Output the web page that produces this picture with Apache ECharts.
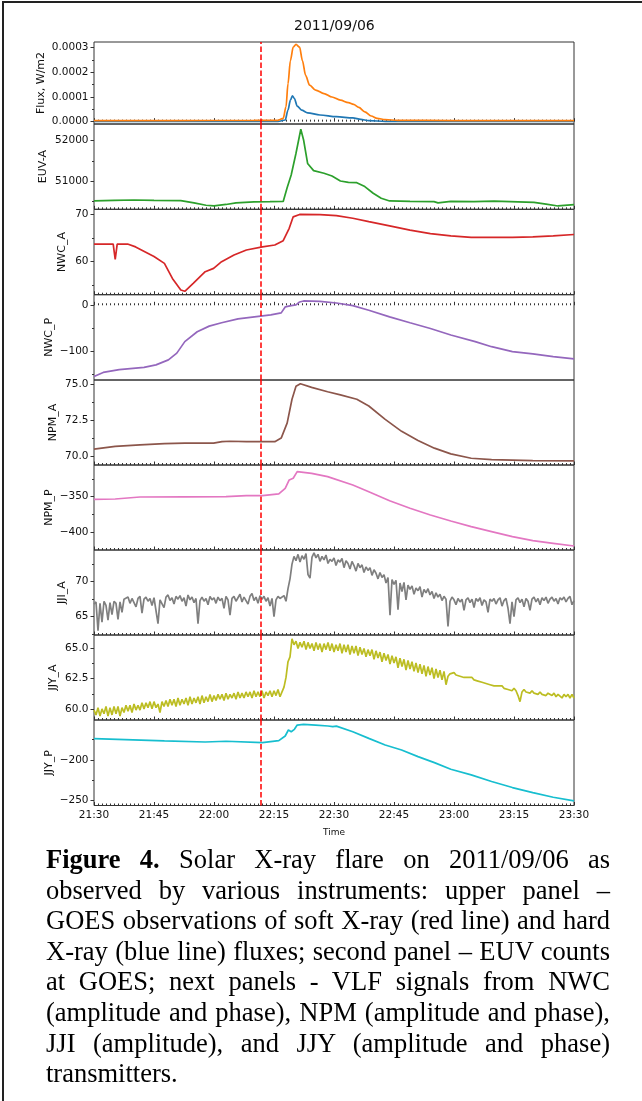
<!DOCTYPE html>
<html>
<head>
<meta charset="utf-8">
<script src="https://cdn.jsdelivr.net/npm/echarts@6/dist/echarts.min.js"></script>
<style>
html,body{margin:0;padding:0;background:#fff;}
#wrap{position:relative;width:642px;height:1101px;overflow:hidden;background:#fff;}
#chart{position:absolute;left:0;top:0;width:642px;height:1101px;}
#frame{position:absolute;left:2px;top:1px;width:660px;height:1120px;border-left:2px solid #222;border-top:2px solid #222;pointer-events:none;}
#caption{position:absolute;left:46px;top:844px;width:564px;font-family:"Liberation Serif","Times New Roman",serif;font-size:26.5px;line-height:30.6px;color:#000;}
#caption .l{text-align:justify;text-align-last:justify;}
#caption .e{text-align:left;}
</style>
</head>
<body>
<div id="wrap">
  <div id="chart"></div>
  <div id="frame"></div>
  <div id="caption">
    <div class="l"><b>Figure 4.</b> Solar X-ray flare on 2011/09/06 as</div>
    <div class="l">observed by various instruments: upper panel –</div>
    <div class="l">GOES observations of soft X-ray (red line) and hard</div>
    <div class="l">X-ray (blue line) fluxes; second panel – EUV counts</div>
    <div class="l">at GOES; next panels - VLF signals from NWC</div>
    <div class="l">(amplitude and phase), NPM (amplitude and phase),</div>
    <div class="l">JJI (amplitude), and JJY (amplitude and phase)</div>
    <div class="e">transmitters.</div>
  </div>
</div>
<script>
// ---------------- DATA (time in minutes after 21:30) ----------------
const chartTitle = "2011/09/06";
const xTickStep = 15;
const eventTime = 41.75; // red dashed line, ~22:11:45

const panelNames = ["Flux, W/m2", "EUV-A", "NWC_A", "NWC_P", "NPM_A", "NPM_P", "JJI_A", "JJY_A", "JJY_P"];

// GOES soft X-ray (orange) and hard X-ray (blue)
const sxrT = [0, 20, 40, 46, 47.3, 48, 48.5, 49.1, 49.8, 50.5, 51.4, 52.1, 52.9, 53.9, 55.4, 57.5, 59.5, 61.6, 63.6, 64.9, 66.2, 67.7, 69.3, 70.8, 72.8, 75.9, 90, 120];
const sxrV = [4.5e-6, 4.5e-6, 4.8e-6, 5.5e-6, 1.34e-5, 6.0e-5, 1.54e-4, 2.48e-4, 3.02e-4, 3.13e-4, 3.02e-4, 2.48e-4, 1.88e-4, 1.48e-4, 1.28e-4, 1.14e-4, 1.0e-4, 8.7e-5, 7.7e-5, 7.0e-5, 5.8e-5, 4.0e-5, 2.3e-5, 1.34e-5, 8.0e-6, 5.4e-6, 4.5e-6, 4.2e-6];
const hxrT = [0, 30, 46, 47.8, 48.5, 49.1, 49.6, 50.1, 50.8, 51.9, 53.4, 56.5, 60.6, 64.7, 66.7, 68.7, 72.8, 90, 120];
const hxrV = [6e-7, 6e-7, 8e-7, 6.7e-6, 4.7e-5, 8.7e-5, 1.05e-4, 9.4e-5, 6.3e-5, 4.7e-5, 3.6e-5, 2.7e-5, 2.0e-5, 1.5e-5, 9.4e-6, 4.0e-6, 1.3e-6, 8e-7, 7e-7];

// EUV-A
const euvT = [0, 5, 10, 15, 21.7, 25, 28, 30, 33, 35.5, 36, 40, 44, 47.3, 48.3, 49.3, 50.5, 51.7, 52.4, 53.4, 54.9, 57.5, 59.5, 61.6, 63.6, 65.7, 67.7, 69.8, 71.8, 73.9, 79, 85, 86, 89.2, 95, 100, 106, 110, 113, 116, 120];
const euvV = [50516, 50530, 50540, 50530, 50525, 50470, 50410, 50393, 50430, 50470, 50490, 50495, 50500, 50505, 50850, 51155, 51690, 52280, 52016, 51440, 51262, 51197, 51130, 51008, 50975, 50967, 50870, 50705, 50582, 50516, 50508, 50500, 50470, 50505, 50500, 50510, 50495, 50480, 50440, 50393, 50426];

// NWC amplitude / phase
const nwcAT = [0, 4.8, 5.3, 5.8, 8.4, 10.4, 15, 17.6, 19.6, 21.7, 22.7, 24.8, 27.8, 29.9, 31.9, 35, 38.1, 42.1, 45.2, 47.3, 48.8, 49.8, 51.4, 56.5, 60.6, 64.7, 68.7, 73.9, 79, 84.1, 89.2, 94.3, 99.4, 104.6, 109.7, 114.8, 120];
const nwcAV = [63.7, 63.7, 60.5, 63.7, 63.7, 63.1, 61.1, 59.65, 56.5, 54.06, 53.8, 55.45, 57.9, 58.6, 60.0, 61.4, 62.45, 63.1, 63.5, 64.4, 67.0, 69.4, 69.9, 69.86, 69.65, 69.1, 68.4, 67.5, 66.6, 65.9, 65.4, 65.1, 65.1, 65.1, 65.2, 65.4, 65.7];
const nwcPT = [0, 2.3, 6.3, 12.5, 15.5, 18.6, 20.7, 22.7, 25.8, 28.8, 31.9, 36, 40.1, 44.2, 46.8, 47.8, 49.3, 50.5, 51.4, 52.4, 56.5, 60.6, 64.7, 68.7, 73.9, 79, 84.1, 89.2, 95.3, 99.4, 104.6, 109.7, 114.8, 120];
const nwcPV = [-154.7, -146, -140, -135, -129.5, -118.7, -104, -79, -57.6, -45.3, -38, -29.5, -25.2, -20.9, -16.5, -3.6, -0.7, 0.7, 7.2, 9.4, 8.6, 5, -0.7, -10.8, -25.2, -38, -50.4, -64.7, -79, -90, -100.7, -105.8, -111.5, -116.5];

// NPM amplitude / phase
const npmAT = [0, 5.3, 11.5, 17.6, 22.7, 29.9, 32, 34, 38.1, 42.1, 45.2, 46.8, 48.3, 49.5, 50.5, 51.6, 54.4, 58.4, 61.6, 65.7, 68.7, 72.8, 76.9, 81, 85.1, 89.2, 94.3, 99.4, 109.7, 120];
const npmAV = [70.47, 70.66, 70.77, 70.85, 70.89, 70.89, 71.0, 71.02, 70.99, 70.99, 70.99, 71.24, 72.3, 73.94, 74.84, 75.02, 74.77, 74.46, 74.25, 73.94, 73.47, 72.54, 71.71, 71.08, 70.54, 70.14, 69.84, 69.74, 69.67, 69.65];
const npmPT = [0, 5.3, 11.5, 22.7, 33, 38.1, 42.1, 46.2, 47.8, 48.8, 49.8, 50.8, 51.3, 54.4, 58.4, 64.7, 68.7, 73.9, 79, 84.1, 89.2, 94.3, 99.4, 104.6, 109.7, 114.8, 120];
const npmPV = [-353.8, -353.3, -350.5, -350.2, -350, -348.6, -348.6, -346.2, -338.2, -326.4, -324, -314.6, -313.2, -317, -321.7, -333.5, -343, -355.7, -366.5, -376, -384.4, -392.5, -399.5, -406.6, -412.3, -416, -419.8];

// JJI amplitude, sampled every 0.5 min from 21:30
const jjiStart = 0, jjiStep = 0.5;
const jjiV = [
66.8,67.1,63.0,66.9,64.2,67.2,66.6,64.5,67.0,65.3,
67.2,66.9,64.6,67.1,65.6,67.5,67.3,67.8,66.9,67.6,
67.4,66.4,67.6,67.9,65.5,67.5,67.8,67.2,67.6,66.6,
67.7,67.9,64.0,67.4,67.6,66.3,67.8,68.1,67.3,67.7,
66.8,67.9,67.5,68.0,67.2,67.7,66.5,68.1,67.4,67.8,
67.0,67.6,64.0,67.3,67.8,67.2,67.6,66.7,67.9,67.4,
67.7,66.9,67.8,67.3,67.6,66.2,67.9,67.4,65.2,67.6,
67.9,67.2,67.7,68.2,67.1,67.8,68.0,66.8,67.9,68.3,
67.3,67.8,66.9,68.0,67.5,67.9,67.2,67.7,66.5,67.6,
65.0,67.4,67.9,67.6,67.5,68.0,67.2,69.0,70.4,72.5,
73.6,73.0,73.9,72.8,73.7,73.2,74.0,71.0,70.5,73.5,
74.1,73.4,73.9,72.9,73.6,73.1,73.8,72.6,73.2,72.9,
73.4,72.3,73.1,72.8,73.3,72.0,73.0,72.6,71.8,72.9,
72.3,71.5,72.6,72.0,72.4,71.3,72.1,71.6,72.0,70.9,
71.7,71.2,70.4,71.3,70.6,71.0,69.8,70.6,65.2,70.3,
69.6,70.2,66.0,69.8,68.6,69.9,67.4,69.5,68.9,69.4,
68.2,69.1,68.7,69.3,67.8,68.9,68.4,69.0,68.1,68.6,
67.6,68.4,67.8,68.2,67.3,67.9,67.5,63.6,67.2,67.8,
67.4,66.7,67.6,67.1,67.5,65.9,67.4,67.7,67.0,67.5,
66.3,67.6,67.2,67.7,66.6,67.4,67.1,65.6,67.5,67.2,
67.6,66.8,67.4,67.7,66.5,67.3,67.6,66.2,64.0,67.1,
65.0,67.4,67.7,67.0,67.5,66.4,67.6,67.2,65.9,67.5,
67.8,67.1,67.6,66.7,67.7,67.3,67.8,66.9,67.5,67.8,
67.2,67.6,66.8,67.7,67.4,67.8,67.1,67.6,67.9,66.7,
67.3];

// JJY amplitude, sampled every 0.5 min from 21:30
const jjyAStart = 0, jjyAStep = 0.5;
const jjyAV = [
59.9,59.5,60.1,59.4,60.0,59.6,60.2,59.4,60.1,59.5,
60.2,59.6,60.2,59.4,60.1,59.7,60.3,59.8,60.3,59.7,
60.4,59.9,60.3,59.9,60.5,60.0,60.5,60.1,60.6,60.0,
60.6,60.1,60.4,59.7,60.6,60.2,60.7,60.2,60.8,60.3,
60.8,60.2,60.9,60.3,60.8,60.4,60.9,60.3,61.0,60.4,
60.9,60.5,61.0,60.4,61.1,60.5,61.0,60.6,61.2,60.6,
61.1,60.7,61.2,60.8,61.2,60.7,61.3,60.8,61.2,60.9,
61.3,60.8,61.4,60.9,61.3,60.9,61.4,61.0,61.4,60.9,
61.5,61.0,61.4,61.0,61.5,60.9,61.4,61.1,61.5,61.0,
61.5,61.1,61.6,61.0,61.4,61.8,62.6,63.9,64.3,65.8,
65.3,65.6,65.0,65.5,65.1,65.6,64.9,65.5,65.0,65.4,
64.8,65.5,64.9,65.4,64.7,65.4,64.9,65.5,64.8,65.4,
64.7,65.3,64.8,65.4,64.6,65.3,64.7,65.3,64.5,65.2,
64.6,65.2,64.4,65.1,64.5,65.0,64.3,64.9,64.4,64.9,
64.1,64.8,64.2,64.7,63.9,64.6,64.0,64.5,63.7,64.4,
63.8,64.3,63.4,64.2,63.5,64.1,63.2,64.0,63.3,63.9,
63.1,63.8,63.0,63.7,62.9,63.6,62.7,63.5,62.8,63.4,
62.5,63.3,62.6,63.2,62.4,63.1,62.0,62.7,62.9,62.8,
63.0,62.8,62.9,62.7,62.8,62.6,62.7,62.6,62.5,62.6,
62.4,62.5,62.3,62.4,62.2,62.3,62.1,62.2,62.0,62.1,
61.9,62.0,61.9,61.8,61.9,61.7,61.8,61.6,61.7,61.5,
61.7,61.5,61.1,60.6,61.4,61.6,61.4,61.5,61.3,61.5,
61.3,61.4,61.2,61.4,61.2,61.3,61.1,61.3,61.2,61.1,
61.3,61.0,61.2,61.1,60.9,61.2,61.0,61.2,60.9,61.2,
60.9];

// JJY phase
const jjyPT = [0, 17.6, 27.8, 33, 42.1, 46.2, 47.8, 48.6, 49.3, 50.1, 50.8, 52.4, 55.4, 58.5, 59.7, 60.6, 64.7, 68.7, 72.8, 76.9, 81, 85.1, 89.2, 94.3, 99.4, 104.6, 109.7, 114.8, 120];
const jjyPV = [-173.8, -176.6, -177.9, -177, -178.7, -176.2, -170.5, -163.1, -165.2, -162.3, -157, -156.1, -157, -158.2, -159, -158.4, -165.2, -173.4, -181.6, -187.7, -195.9, -203.3, -211.5, -218.4, -226.6, -234, -240.2, -245.9, -250.4];

// axis ranges and ticks
const yMins = [-0.0000095, 50311, 53.08, -162.4, 69.37, -425.5, 62.38, 59.08, -256.1];
const yMaxs = [0.000323, 52410, 70.98, 23, 75.28, -305.2, 74.52, 66.11, -150.8];
const yTicks = [[0, 0.0001, 0.0002, 0.0003], [51000, 52000], [60, 70], [-100, 0], [70.0, 72.5, 75.0], [-400, -350], [65, 70], [60.0, 62.5, 65.0], [-250, -200]];
const yMinorTicks = [[0.00005, 0.00015, 0.00025], [50500, 51500], [55, 65], [-150, -50], [71.25, 73.75], [-375, -325], [62.5, 67.5, 72.5], [61.25, 63.75], [-225, -175]];
const yDecimals = [4, 0, 0, 0, 1, 0, 0, 1, 0];

const colors = {blue:'#1f77b4', orange:'#ff7f0e', green:'#2ca02c', red:'#d62728', purple:'#9467bd', brown:'#8c564b', pink:'#e377c2', gray:'#7f7f7f', olive:'#bcbd22', cyan:'#17becf'};

// ---------------- LAYOUT ----------------
const plotLeft = 94, plotWidth = 480;
const panelTops = [42, 124, 209.3, 294.7, 380, 465, 550, 635, 720];
const panelBottoms = [124, 209.3, 294.7, 380, 465, 550, 635, 720, 805.5];
const nameGaps = [47, 45, 26, 39, 35, 39, 26, 35, 39];
const FONT = '"DejaVu Sans", sans-serif';

function pairs(ts, vs){ return vs.map((v,i)=>[ts[i], v]); }
function sampled(start, step, vs){ return vs.map((v,i)=>[start + i*step, v]); }
function fmtTime(v){
  const tot = 21*60 + 30 + v;
  const h = Math.floor(tot/60), m = Math.round(tot%60);
  return h + ':' + (m<10?'0':'') + m;
}
function fmtY(v, d){
  let s = Math.abs(v).toFixed(d);
  return (v < 0 ? '\u2212' : '') + s;
}

const grids = [], xAxes = [], yAxes = [], series = [];
for (let i=0;i<9;i++){
  grids.push({left: plotLeft, width: plotWidth, top: panelTops[i], height: panelBottoms[i]-panelTops[i],
    show: true, borderColor: '#333', borderWidth: 1, backgroundColor: 'transparent'});
  const last = i === 8;
  xAxes.push({type:'value', gridIndex:i, min:0, max:120, interval:xTickStep,
    axisLine:{show:false},
    axisTick:{show:true, inside:true, length:3.5, lineStyle:{color:'#333', width:1}},
    minorTick:{show:true, splitNumber:15, length:2, lineStyle:{color:'#333', width:1}},
    splitLine:{show:false},
    axisLabel:{show:last, formatter: fmtTime, fontFamily:FONT, fontSize:10.5, color:'#111', margin:4},
    name: last ? 'Time' : '', nameLocation:'middle', nameGap: 23, nameMoveOverlap: false,
    nameTextStyle:{fontFamily:FONT, fontSize:9, color:'#111'}
  });
}
for (let i=0;i<9;i++){
  const d = yDecimals[i];
  yAxes.push({type:'value', gridIndex:i, position:'left', min:yMins[i], max:yMaxs[i],
    axisLine:{show:false}, splitLine:{show:false},
    axisTick:{show:true, inside:false, length:3.5, customValues: yTicks[i], lineStyle:{color:'#333', width:1}},
    axisLabel:{show:true, customValues: yTicks[i], formatter: v => fmtY(v, d), fontFamily:FONT, fontSize:10.5, color:'#111', margin:5.5},
    name: panelNames[i], nameLocation:'middle', nameGap: nameGaps[i], nameRotate: 90, nameMoveOverlap: false,
    nameTextStyle:{fontFamily:FONT, fontSize:11, color:'#111'}
  });
}
for (let i=0;i<9;i++){
  yAxes.push({type:'value', gridIndex:i, position:'left', min:yMins[i], max:yMaxs[i],
    axisLine:{show:false}, splitLine:{show:false}, axisLabel:{show:false},
    axisTick:{show:true, inside:false, length:2, customValues: yMinorTicks[i], lineStyle:{color:'#333', width:1}}
  });
}

const vline = {silent:true, symbol:'none', label:{show:false}, z:10,
  lineStyle:{color:'#ff0000', type:[5.5,2.5], width:1.5}, data:[{xAxis: eventTime}]};

function line(i, data, color, extra){
  return Object.assign({type:'line', xAxisIndex:i, yAxisIndex:i, data, showSymbol:false, symbol:'none',
    lineStyle:{color, width:1.7}, itemStyle:{color}, animation:false, silent:true}, extra||{});
}

series.push(line(0, pairs(sxrT, sxrV), colors.orange, {smooth:0.3, smoothMonotone:'x', z:3}));
series.push(line(0, pairs(hxrT, hxrV), colors.blue, {smooth:0.3, smoothMonotone:'x', z:2, markLine: vline}));
series.push(line(1, pairs(euvT, euvV), colors.green, {markLine: vline}));
series.push(line(2, pairs(nwcAT, nwcAV), colors.red, {markLine: vline}));
series.push(line(3, pairs(nwcPT, nwcPV), colors.purple, {markLine: vline}));
series.push(line(4, pairs(npmAT, npmAV), colors.brown, {markLine: vline}));
series.push(line(5, pairs(npmPT, npmPV), colors.pink, {markLine: vline}));
series.push(line(6, sampled(jjiStart, jjiStep, jjiV), colors.gray, {markLine: vline}));
series.push(line(7, sampled(jjyAStart, jjyAStep, jjyAV), colors.olive, {markLine: vline}));
series.push(line(8, pairs(jjyPT, jjyPV), colors.cyan, {markLine: vline}));

const chart = echarts.init(document.getElementById('chart'), null, {renderer:'canvas'});
chart.setOption({
  animation:false,
  backgroundColor:'transparent',
  graphic:[{type:'text', left: plotLeft + plotWidth/2 - 40, top: 19,
    style:{text: chartTitle, font: '14px "DejaVu Sans", sans-serif', fill:'#111'}}],
  grid: grids, xAxis: xAxes, yAxis: yAxes, series
});
</script>
</body>
</html>
